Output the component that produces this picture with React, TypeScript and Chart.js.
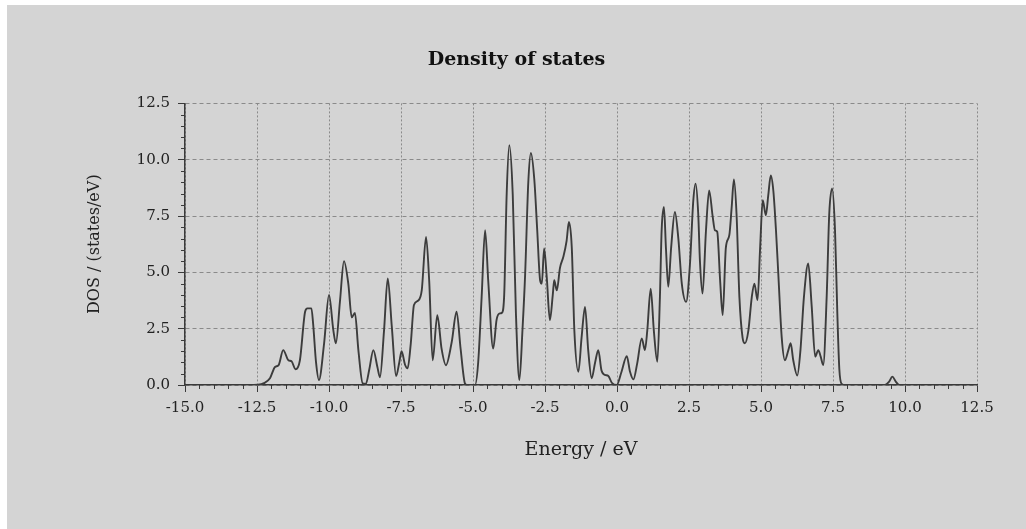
import React, { useEffect, useRef } from 'react';
import { Chart, registerables } from 'chart.js';

Chart.register(...registerables);

// ---- data ----
const energyEv = [
  -12.67, -12.47, -12.26, -12.05, -11.875, -11.75, -11.59, -11.41, -11.3, -11.16,
  -11.01, -10.83, -10.75, -10.61, -10.55, -10.45, -10.35, -10.17, -10.0, -9.85,
  -9.76, -9.62, -9.48, -9.33, -9.21, -9.1, -8.98, -8.83, -8.72, -8.6,
  -8.46, -8.32, -8.23, -8.09, -7.96, -7.82, -7.67, -7.56, -7.48, -7.36,
  -7.27, -7.16, -7.05, -6.9, -6.78, -6.63, -6.52, -6.4, -6.24, -6.09,
  -5.94, -5.74, -5.57, -5.43, -5.28, -5.21, -4.93, -4.82, -4.7, -4.58,
  -4.47, -4.3, -4.18, -4.09, -4.0, -3.92, -3.83, -3.74, -3.62, -3.51,
  -3.39, -3.28, -3.19, -3.08, -2.99, -2.87, -2.77, -2.67, -2.61, -2.53,
  -2.44, -2.33, -2.23, -2.18, -2.09, -1.98, -1.86, -1.75, -1.67, -1.57,
  -1.48, -1.34, -1.23, -1.11, -1.0, -0.88, -0.76, -0.65, -0.54, -0.42,
  -0.3, -0.18, -0.01, 0.16, 0.34, 0.45, 0.57, 0.7, 0.86, 0.97,
  1.05, 1.17, 1.28, 1.4, 1.49, 1.55, 1.63, 1.7, 1.78, 1.88,
  2.01, 2.13, 2.25, 2.4, 2.53, 2.65, 2.73, 2.82, 2.88, 2.97,
  3.09, 3.2, 3.32, 3.4, 3.48, 3.58, 3.67, 3.78, 3.9, 3.98,
  4.06, 4.15, 4.25, 4.36, 4.44, 4.56, 4.68, 4.77, 4.88, 4.97,
  5.06, 5.17, 5.25, 5.34, 5.43, 5.52, 5.6, 5.72, 5.83, 5.95,
  6.03, 6.12, 6.26, 6.37, 6.49, 6.64, 6.76, 6.88, 6.99, 7.07,
  7.16, 7.28, 7.37, 7.47, 7.57, 7.65, 7.72, 7.8, 7.92, 9.3,
  9.45, 9.56, 9.68, 9.8, 10.2,
];

const dosStatesPerEv = [
  0, 0.01, 0.08, 0.3, 0.8, 0.88, 1.55, 1.1, 1.05, 0.7,
  1.1, 3.25, 3.4, 3.4, 2.7, 1.0, 0.22, 1.85, 4.0, 2.44,
  1.85, 3.7, 5.5, 4.5, 3.0, 3.2, 1.55, 0.07, 0.05, 0.7,
  1.55, 0.8, 0.34, 2.4, 4.73, 2.6, 0.4, 1.0, 1.5, 0.9,
  0.74, 1.85, 3.55, 3.75, 4.2, 6.57, 4.6, 1.1, 3.1, 1.6,
  0.88, 1.9, 3.25, 1.6, 0.07, 0, 0, 1.0, 3.9, 6.87,
  4.6, 1.62, 2.9, 3.17, 3.2, 3.9, 8.5, 10.64, 8.45, 3.2,
  0.22, 2.5, 4.9, 9.0, 10.3, 9.1, 6.87, 4.65, 4.5, 6.06,
  4.8, 2.88, 4.0, 4.65, 4.2, 5.2, 5.7, 6.4, 7.24, 6.1,
  2.4, 0.59, 2.1, 3.47, 1.55, 0.3, 1.0, 1.55, 0.65, 0.45,
  0.4, 0.1, 0.0, 0.6, 1.28, 0.6, 0.25, 0.95, 2.07, 1.55,
  2.4, 4.28, 2.4, 1.03, 3.9, 6.87, 7.9, 6.06, 4.36, 6.1,
  7.68, 6.5, 4.5, 3.69, 5.3, 8.2, 8.94, 7.6, 5.5, 4.06,
  6.87, 8.64, 7.5, 6.87, 6.8, 4.65, 3.1, 6.1, 6.65, 7.86,
  9.12, 7.6, 3.9, 2.1, 1.85, 2.4, 3.9, 4.5, 3.77, 6.1,
  8.2, 7.53, 8.4, 9.3, 8.6, 6.87, 4.95, 2.1, 1.1, 1.55,
  1.85, 1.1, 0.42, 1.55, 3.9, 5.39, 3.5, 1.26, 1.55, 1.27,
  0.89, 3.9, 7.6, 8.72, 6.87, 3.2, 0.7, 0.05, 0, 0,
  0.15, 0.37, 0.15, 0, 0,
];

const xAxisRange = [-15, 12.5];
const yAxisRange = [0, 12.5];
const majorStep = 2.5;
const minorStep = 0.5;

const chartTitle = 'Density of states';
const xAxisTitle = 'Energy / eV';
const yAxisTitle = 'DOS / (states/eV)';

const FONT = "'DejaVu Serif', 'Liberation Serif', serif";
const AXIS_COLOR = '#3a3a3a';
const GRID_COLOR = '#8a8a8a';

const minorTicksPlugin = {
  id: 'minorTicks',
  afterDraw(chart: any) {
    const { ctx, scales, chartArea } = chart;
    const xs = scales.x;
    const ys = scales.y;
    ctx.save();
    ctx.strokeStyle = AXIS_COLOR;
    ctx.lineWidth = 1;
    ctx.beginPath();
    const nx = Math.round((xAxisRange[1] - xAxisRange[0]) / minorStep);
    for (let i = 0; i <= nx; i++) {
      const v = xAxisRange[0] + i * minorStep;
      if (Math.abs(v / majorStep - Math.round(v / majorStep)) < 1e-6) continue;
      const px = Math.round(xs.getPixelForValue(v)) + 0.5;
      ctx.moveTo(px, chartArea.bottom);
      ctx.lineTo(px, chartArea.bottom + 4);
    }
    const ny = Math.round((yAxisRange[1] - yAxisRange[0]) / minorStep);
    for (let i = 0; i <= ny; i++) {
      const v = yAxisRange[0] + i * minorStep;
      if (Math.abs(v / majorStep - Math.round(v / majorStep)) < 1e-6) continue;
      const py = Math.round(ys.getPixelForValue(v)) + 0.5;
      ctx.moveTo(chartArea.left - 4, py);
      ctx.lineTo(chartArea.left, py);
    }
    ctx.stroke();
    ctx.restore();
  },
};

export default function App() {
  const canvasRef = useRef<HTMLCanvasElement | null>(null);

  useEffect(() => {
    if (!canvasRef.current) return;
    const points = energyEv.map((e, i) => ({ x: e, y: dosStatesPerEv[i] }));
    const chart = new Chart(canvasRef.current, {
      type: 'line',
      data: {
        datasets: [
          {
            label: 'DOS',
            data: points,
            borderColor: '#3c3c3c',
            borderWidth: 1.9,
            pointRadius: 0,
            fill: false,
            cubicInterpolationMode: 'monotone',
          },
        ],
      },
      options: {
        animation: false,
        responsive: true,
        maintainAspectRatio: false,
        layout: { padding: { left: 49, right: 49, top: 0, bottom: 0 } },
        plugins: {
          legend: { display: false },
          tooltip: { enabled: false },
          title: {
            display: true,
            text: chartTitle,
            color: '#111111',
            font: { family: FONT, size: 19, weight: 'bold' },
            padding: { top: 43.6, bottom: 32 },
          },
        },
        scales: {
          x: {
            type: 'linear',
            min: xAxisRange[0],
            max: xAxisRange[1],
            afterFit: (scale: any) => {
              scale.height = 144;
            },
            ticks: {
              stepSize: majorStep,
              color: '#222222',
              font: { family: FONT, size: 15 },
              padding: 7,
              maxRotation: 0,
              autoSkip: false,
              callback: (v: any) => Number(v).toFixed(1),
            },
            grid: {
              color: GRID_COLOR,
              lineWidth: 1,
              tickLength: 7,
              tickColor: AXIS_COLOR,
              tickBorderDash: [],
            },
            border: { display: true, color: AXIS_COLOR, width: 1.5, dash: [2, 2] },
            title: {
              display: true,
              text: xAxisTitle,
              color: '#222222',
              font: { family: FONT, size: 19 },
              padding: { top: 0, bottom: 67.6 },
            },
          },
          y: {
            type: 'linear',
            min: yAxisRange[0],
            max: yAxisRange[1],
            afterFit: (scale: any) => {
              scale.width = 129;
            },
            ticks: {
              stepSize: majorStep,
              color: '#222222',
              font: { family: FONT, size: 15 },
              padding: 8,
              callback: (v: any) => Number(v).toFixed(1),
            },
            grid: {
              color: GRID_COLOR,
              lineWidth: 1,
              tickLength: 7,
              tickColor: AXIS_COLOR,
              tickBorderDash: [],
            },
            border: { display: true, color: AXIS_COLOR, width: 1.5, dash: [4, 3] },
            title: {
              display: true,
              text: yAxisTitle,
              color: '#222222',
              font: { family: FONT, size: 16 },
              padding: { top: 29.4, bottom: 0 },
            },
          },
        },
      },
      plugins: [minorTicksPlugin],
    } as any);
    return () => chart.destroy();
  }, []);

  return (
    <div
      style={{
        position: 'absolute',
        left: 7,
        top: 5,
        width: 1019,
        height: 524,
        background: '#d4d4d4',
      }}
    >
      <canvas ref={canvasRef} />
    </div>
  );
}
